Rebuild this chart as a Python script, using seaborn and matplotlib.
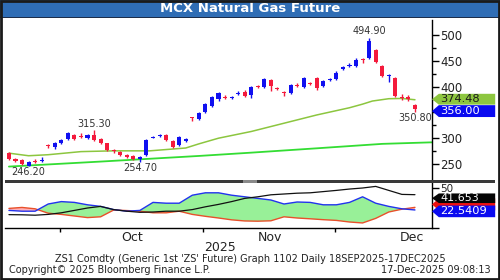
import numpy as np
import pandas as pd
import matplotlib
matplotlib.use("Agg")
import matplotlib.pyplot as plt
import seaborn as sns
from matplotlib.patches import Rectangle, Polygon
from matplotlib.transforms import blended_transform_factory

sns.set_theme(style="white")
plt.rcParams['font.family'] = ['DejaVu Sans']

# ---------------- data ----------------
opens  = [271, 260, 258, 247, 256, 255, 286, 282, 290, 298, 306, 304, 300, 307, 298, 290, 277, 274, 268, 265,
          260, 268, 301, 304, 306, 295, 287, 295, 341, 337, 351, 363, 375, 380, 378, 385, 390, 384, 402, 400,
          412, 398, 390, 388, 404, 400, 407, 416, 401, 412, 414, 435, 439, 440, 453, 455, 470, 440, 420, 416,
          380, 379, 364]
highs  = [274, 262, 259, 255, 259, 263, 288, 293, 299, 312, 308, 310, 308, 315.3, 300, 291, 279, 276, 270, 268,
          266, 298, 304, 309, 308, 296, 305, 301, 342, 351, 368, 382, 390, 383, 382, 391, 394, 402, 404, 416,
          414, 400, 392, 405, 406, 419, 409, 418, 412, 416, 430, 440, 445, 455, 456, 494.9, 472, 442, 425, 418,
          385, 383, 366]
lows   = [258, 253, 248, 246.2, 252, 254, 281, 280, 288, 296, 297, 300, 298, 294, 288, 275, 272, 266, 261, 258,
          254.7, 266, 300, 302, 295, 281, 285, 293, 333, 335, 349, 361, 373, 376, 376, 383, 380, 378, 398, 398,
          392, 393, 381, 386, 400, 398, 403, 394, 399, 410, 412, 433, 437, 438, 446, 453, 445, 419, 408, 379,
          374, 372, 350.8]
closes = [260, 255, 250, 253, 254, 257, 284, 291, 297, 310, 299, 302, 306, 296, 290, 277, 275, 268, 263, 260,
          264, 296, 303, 306, 297, 282, 303, 299, 339, 349, 366, 380, 388, 378, 380, 387, 382, 400, 400, 414,
          401, 396, 387, 403, 402, 416, 405, 398, 410, 414, 427, 437, 441, 452, 451, 489, 448, 421, 422, 381,
          378, 376, 356]

ma_fast_session = [0, 3, 6, 11, 16, 21.5, 26, 27, 29, 32, 37, 42, 47, 52, 54, 55.5, 58, 60, 62]
ma_fast_value   = [271, 266, 268, 274, 275.5, 275.5, 280, 281, 289, 300, 313, 329, 345, 359, 366, 372, 376.5, 377, 374.5]
ma_slow_session = [0, 14, 29, 37, 47, 57, 64.6]
ma_slow_value   = [245, 254.7, 265.6, 272, 280.4, 289, 292]

ind_session = list(range(0, 63, 2))
di_plus  = [22, 21, 21, 30, 33, 32, 29, 27, 23, 21, 22, 32, 31, 31, 41, 44, 44, 41, 39, 37, 35, 30, 32.5, 32,
            29, 29, 32, 39, 31, 27, 24, 22.54]
di_minus = [24.5, 25.7, 24, 18.5, 17, 15, 13, 14, 22.5, 21.8, 21, 19, 19, 21, 17, 14.6, 12.5, 10.2, 8.8, 8.5,
            9, 14, 12.5, 11.5, 10.4, 9.5, 7.5, 6.3, 12, 20, 23.5, 25.8]
adx      = [16.7, 16.5, 16, 17, 19, 22, 25, 27, 23, 21, 19.6, 20, 21, 21, 23, 26.5, 29.5, 33, 37, 39, 41.5, 42.5,
            43.5, 44, 45.5, 47, 48.7, 50, 52, 47, 42, 41.65]

price_ticks = [250, 300, 350, 400, 450, 500]
price_tick_labels = ["250", "300", "", "400", "450", "500"]   # 350 is hidden behind the value boxes
month_bounds = [7.8, 29.6, 49.8]
month_centers = [18.8, 39.8, 61.5]
month_labels = ["Oct", "Nov", "Dec"]

# ---------------- figure ----------------
W, H = 500, 280
fig = plt.figure(figsize=(5, 2.8), dpi=100)
fig.patch.set_facecolor("white")

def fy(py):
    return 1 - py / H

ax = fig.add_axes([5 / W, fy(180), 427 / W, 160 / H])
ax2 = fig.add_axes([5 / W, fy(228), 427 / W, 45 / H], sharex=ax)

BLUE = "#1010f0"
RED = "#f41a3c"

sessions = np.arange(len(opens))
o = np.array(opens); c = np.array(closes); h = np.array(highs); l = np.array(lows)
up = c >= o
col = np.where(up, BLUE, RED)
body_lo = np.minimum(o, c)
body_h = np.maximum(np.abs(c - o), 1.8)
ax.vlines(sessions, l, h, colors=col, lw=1.0, zorder=3)
ax.bar(sessions, body_h, bottom=body_lo, width=0.62, color=col, linewidth=0, zorder=4)

df_fast = pd.DataFrame({"s": ma_fast_session, "v": ma_fast_value})
df_slow = pd.DataFrame({"s": ma_slow_session, "v": ma_slow_value})
sns.lineplot(data=df_slow, x="s", y="v", ax=ax, color="#33dd33", lw=1.3, zorder=2)
sns.lineplot(data=df_fast, x="s", y="v", ax=ax, color="#8cc63f", lw=1.1, zorder=2)

ax.set_xlim(-0.6, 64.6)
ax.set_ylim(219, 529)
ax.set_xlabel(""); ax.set_ylabel("")
for s in ["left", "top", "bottom"]:
    ax.spines[s].set_visible(False)
ax.spines["right"].set_color("black"); ax.spines["right"].set_linewidth(1)
ax.yaxis.tick_right()
ax.set_yticks(price_ticks)
ax.set_yticklabels(price_tick_labels, fontsize=8.5, color="#222222")
ax.set_yticks([275, 325, 375, 425, 475], minor=True)
ax.tick_params(axis="y", which="major", direction="out", length=5, width=1, color="black", pad=1, right=True)
ax.tick_params(axis="y", which="minor", direction="out", length=3, width=1, color="black", right=True)
ax.tick_params(axis="x", bottom=False, labelbottom=False)

# annotations of extremes
ann_kw = dict(fontsize=7, color="#333333", ha="center")
ax.annotate("494.90", (55, 494.9), xytext=(0, 1), textcoords="offset points", va="bottom", **ann_kw)
ax.annotate("315.30", (13, 315.3), xytext=(0, 1), textcoords="offset points", va="bottom", **ann_kw)
ax.annotate("246.20", (3, 246.2), xytext=(-0.5, -1), textcoords="offset points", va="top", **ann_kw)
ax.annotate("254.70", (20, 254.7), xytext=(0, -1), textcoords="offset points", va="top", **ann_kw)
ax.annotate("350.80", (62, 350.8), xytext=(0, -1), textcoords="offset points", va="top", **ann_kw)

def value_box(axis, yc, half, text, face, tcolor, z=6, fs=8.2):
    tr = blended_transform_factory(axis.transAxes, axis.transData)
    poly = Polygon([(1.0, yc), (1.016, yc + half), (1.148, yc + half), (1.148, yc - half), (1.016, yc - half)],
                   closed=True, transform=tr, facecolor=face, edgecolor="none", clip_on=False, zorder=z)
    axis.add_patch(poly)
    if text:
        axis.text(1.02, yc, text, transform=tr, ha="left", va="center", fontsize=fs, color=tcolor,
                  clip_on=False, zorder=z + 1)

value_box(ax, 375.5, 10.5, "374.48", "#8dc63f", "#1a1a1a")
value_box(ax, 352.5, 11.5, "356.00", "#0a0af0", "white")

# ---------------- indicator panel ----------------
ind = pd.DataFrame({"s": ind_session, "plus": di_plus, "minus": di_minus, "adx": adx})
p = np.array(di_plus); m = np.array(di_minus); si = np.array(ind_session, dtype=float)
ax2.fill_between(si, p, m, where=p >= m, interpolate=True, color="#98f098", lw=0, zorder=1)
ax2.fill_between(si, p, m, where=p < m, interpolate=True, color="#ffb0b8", lw=0, zorder=1)
sns.lineplot(data=ind, x="s", y="minus", ax=ax2, color="#e8502a", lw=1.0, zorder=3)
sns.lineplot(data=ind, x="s", y="plus", ax=ax2, color="#2233ee", lw=1.0, zorder=3)
sns.lineplot(data=ind, x="s", y="adx", ax=ax2, color="#111111", lw=0.9, zorder=4)
ax2.set_ylim(0, 56.25)
ax2.set_xlabel(""); ax2.set_ylabel("")
for s in ["left", "top"]:
    ax2.spines[s].set_visible(False)
for s in ["right", "bottom"]:
    ax2.spines[s].set_color("black"); ax2.spines[s].set_linewidth(1)
ax2.yaxis.tick_right()
ax2.set_yticks([0, 50])
ax2.set_yticklabels(["", "50"], fontsize=7.5, color="#222222")
ax2.tick_params(axis="y", direction="out", length=5, width=1, color="black", pad=1, right=True)
ax2.set_xticks(month_bounds)
ax2.set_xticklabels(["", "", ""])
ax2.set_xticks(month_centers, minor=True)
ax2.set_xticklabels(month_labels, minor=True, fontsize=9, color="#222222")
ax2.tick_params(axis="x", which="major", direction="out", length=3, width=1, color="black", bottom=True)
ax2.tick_params(axis="x", which="minor", length=0, pad=2, bottom=True)

value_box(ax2, 29.5, 7.5, "", "#ee1111", "#ee1111", z=5)
value_box(ax2, 37.2, 6.0, "41.653", "#050505", "white", z=7, fs=8)
value_box(ax2, 20.8, 7.3, "22.5409", "#0a0af0", "white", z=7, fs=8.2)

# ---------------- chrome ----------------
fig.patches.append(Rectangle((0, fy(17)), 1, 17 / H, transform=fig.transFigure,
                             facecolor="#2f6db5", edgecolor="none", zorder=0))
fig.patches.append(Rectangle((0, fy(18)), 1, 1.5 / H, transform=fig.transFigure,
                             facecolor="#1c2d4a", edgecolor="none", zorder=1))
fig.text(0.5, fy(8.5), "MCX Natural Gas Future", color="white", fontsize=9.5, fontweight="bold",
         ha="center", va="center")
# panel separator
fig.patches.append(Rectangle((5 / W, fy(183)), 490 / W, 3 / H, transform=fig.transFigure,
                             facecolor="#3a3a3a", edgecolor="none", zorder=5))
fig.patches.append(Rectangle((243 / W, fy(183)), 14 / W, 3 / H, transform=fig.transFigure,
                             facecolor="#8a8a8a", edgecolor="none", zorder=6))
# outer frame
fig.patches.append(Rectangle((0.002, 0.003), 0.996, 0.994, transform=fig.transFigure,
                             facecolor="none", edgecolor="#1a1a1a", lw=2.0, zorder=10))

fig.text(220 / W, fy(247.5), "2025", fontsize=9, color="#222222", ha="center", va="center")
fig.text(0.5, fy(259.5), "ZS1 Comdty (Generic 1st 'ZS' Future) Graph 1102 Daily 18SEP2025-17DEC2025",
         fontsize=7, color="#222222", ha="center", va="center")
fig.text(9 / W, fy(270), "Copyright\u00a9 2025 Bloomberg Finance L.P.", fontsize=7, color="#222222",
         ha="left", va="center")
fig.text(491 / W, fy(270), "17-Dec-2025 09:08:13", fontsize=7, color="#222222", ha="right", va="center")

fig.savefig("out.png", dpi=100)
